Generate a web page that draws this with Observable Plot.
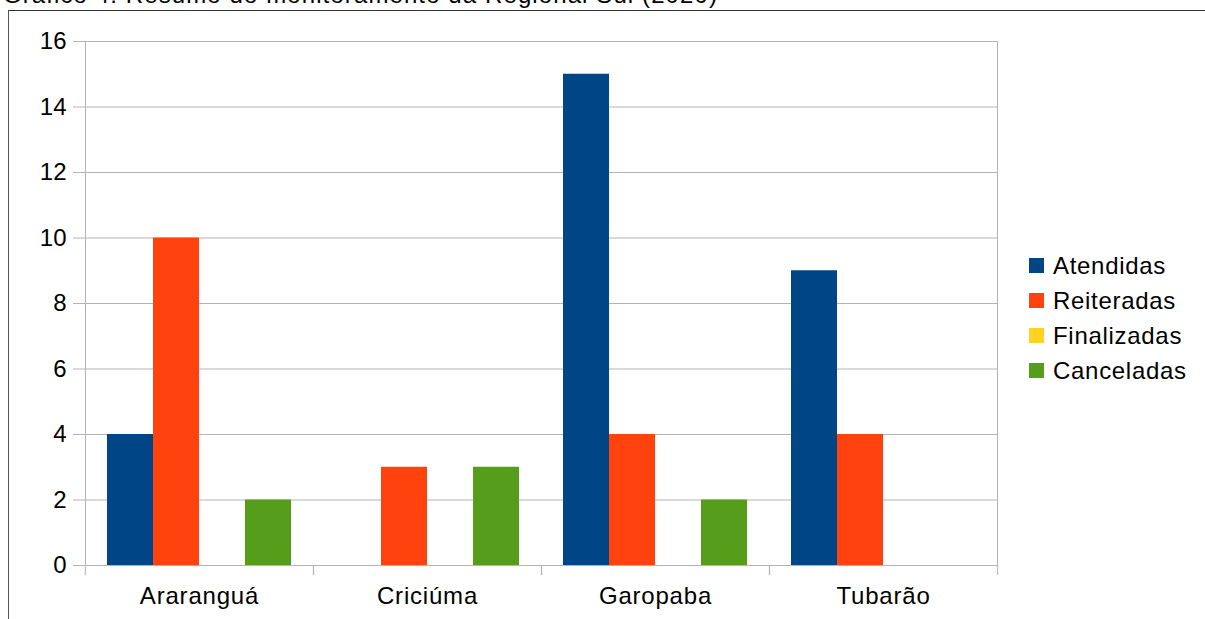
<!DOCTYPE html>
<html>
<head>
<meta charset="utf-8">
<script src="https://cdn.jsdelivr.net/npm/d3@7"></script>
<script src="https://cdn.jsdelivr.net/npm/@observablehq/plot@0.6"></script>
<style>
  body { margin: 0; background: #fff; }
  #wrap { position: relative; width: 1205px; height: 619px; overflow: hidden; font-family: "Liberation Sans", Arial, sans-serif; }
  #title { position: absolute; left: 3px; top: -19px; font-size: 24px; line-height: 27px; letter-spacing: 1.1px; white-space: nowrap; color: #000; }
  #box { position: absolute; left: 8px; top: 10px; width: 1400px; height: 800px; border-left: 1px solid #555; border-top: 1px solid #333; }
  #chart { position: absolute; left: 0; top: 0; }
  #legend { position: absolute; left: 1029px; top: 248px; font-size: 24px; letter-spacing: 0.7px; color: #000; }
  #legend .row { display: flex; align-items: center; height: 35px; }
  #legend .sw { width: 15px; height: 15px; margin-right: 9px; }
</style>
</head>
<body>
<div id="wrap">
  <div id="title">Gráfico 4: Resumo do monitoramento da Regional Sul (2020)</div>
  <div id="box"></div>
  <div id="chart"></div>
  <div id="legend"></div>
</div>
<script>
// Monitoring summary per city, four request statuses
const cities = ["Araranguá", "Criciúma", "Garopaba", "Tubarão"];
const series = ["Atendidas", "Reiteradas", "Finalizadas", "Canceladas"];
const colors = ["#004586", "#ff420e", "#ffd320", "#579d1c"];
const atendidas   = [4, 0, 15, 9];
const reiteradas  = [10, 3, 4, 4];
const finalizadas = [0, 0, 0, 0];
const canceladas  = [2, 3, 2, 0];
const yTicks = [0, 2, 4, 6, 8, 10, 12, 14, 16];

const valuesBySeries = [atendidas, reiteradas, finalizadas, canceladas];
const rows = [];
cities.forEach((c, i) => {
  series.forEach((s, j) => rows.push({cidade: c, serie: s, valor: valuesBySeries[j][i]}));
});

const W = 1205, H = 619;
const mL = 84, mR = 208, mT = 41, mB = 54;
const step = (W - mL - mR) / cities.length;
const grid = "#b3b3b3";

const chart = Plot.plot({
  width: W,
  height: H,
  marginLeft: mL,
  marginRight: mR,
  marginTop: mT,
  marginBottom: mB,
  style: {fontFamily: "Liberation Sans, Arial, sans-serif", fontSize: "24px", color: "#000", background: "transparent"},
  fx: {domain: cities, padding: 0, label: null},
  x: {domain: series, paddingInner: 0, paddingOuter: 0.478, axis: null},
  y: {domain: [0, 16], ticks: yTicks, label: null},
  color: {domain: series, range: colors},
  marks: [
    Plot.gridY(yTicks, {stroke: grid, strokeOpacity: 1, strokeWidth: 1}),
    Plot.frame({anchor: "left", facetAnchor: "left", stroke: grid, strokeWidth: 1}),
    Plot.frame({anchor: "right", facetAnchor: "right", stroke: grid, strokeWidth: 1}),
    Plot.axisY(yTicks, {tickSize: 12, tickPadding: 7, stroke: grid, strokeOpacity: 1, fill: "#000", label: null}),
    Plot.axisFx({anchor: "bottom", tickSize: 10, text: null, stroke: grid, strokeOpacity: 1, dx: step / 2, label: null}),
    Plot.axisFx({anchor: "bottom", tickSize: 10, text: null, stroke: grid, strokeOpacity: 1, dx: -step / 2, label: null}),
    Plot.axisFx({anchor: "bottom", tickSize: 0, tickPadding: 21, fill: "#000", label: null}),
    Plot.barY(rows, {fx: "cidade", x: "serie", y: "valor", fill: "serie", inset: 0})
  ]
});
chart.querySelectorAll("g[aria-label='fx-axis tick label'] text").forEach(t => t.setAttribute("letter-spacing", "0.8"));
document.getElementById("chart").appendChild(chart);

const legend = d3.select("#legend");
series.forEach((s, i) => {
  const r = legend.append("div").attr("class", "row");
  r.append("div").attr("class", "sw").style("background", colors[i]);
  r.append("span").text(s);
});
</script>
</body>
</html>
